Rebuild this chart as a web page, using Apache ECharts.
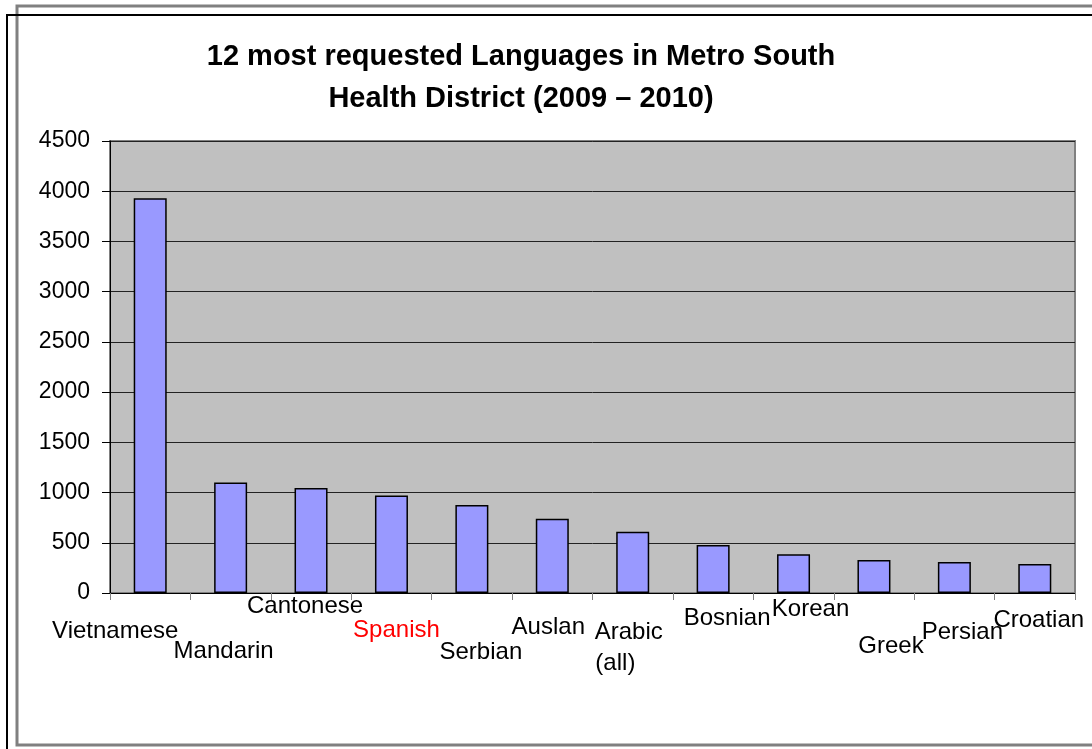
<!DOCTYPE html>
<html>
<head>
<meta charset="utf-8">
<script src="https://cdn.jsdelivr.net/npm/echarts@6/dist/echarts.min.js"></script>
<style>
html,body{margin:0;padding:0;background:#fff;}
#chart{width:1092px;height:749px;}
</style>
</head>
<body>
<div id="chart"></div>
<script>
const titleLines = ['12 most requested Languages in Metro South', 'Health District (2009 \u2013 2010)'];
const categories = ['Vietnamese', 'Mandarin', 'Cantonese', 'Spanish', 'Serbian', 'Auslan', 'Arabic\n(all)    ', 'Bosnian', 'Korean', 'Greek', 'Persian', 'Croatian'];
const values = [3930, 1100, 1045, 970, 875, 740, 610, 478, 385, 328, 308, 289];
const yTicks = [0, 500, 1000, 1500, 2000, 2500, 3000, 3500, 4000, 4500];
// per-label padding [top, right, bottom, left] to mimic staggered label placement
const labelPads = [[26,70,0,0],[46,14,0,0],[1,12,0,0],[25,0,0,10],[47,0,0,18],[22,8,0,0],[24,8,0,0],[13,0,0,28],[4,0,0,34],[41,0,0,34],[27,0,0,16],[15,0,0,8]];
const labelColors = ['#000','#000','#000','#ff0000','#000','#000','#000','#000','#000','#000','#000','#000'];

const FONT = '"Liberation Sans", Arial, sans-serif';
const TITLE_SIZE = 29;
const TITLE_CENTER_X = 521;

const chart = echarts.init(document.getElementById('chart'), null, {renderer: 'canvas'});

const xData = categories.map((c, i) => ({
  value: c,
  textStyle: {
    padding: labelPads[i],
    color: labelColors[i],
    lineHeight: c.indexOf('\n') >= 0 ? 31 : 24
  }
}));

chart.setOption({
  backgroundColor: '#ffffff',
  animation: false,
  title: {
    text: titleLines.join('\n'),
    left: TITLE_CENTER_X,
    top: 36,
    padding: 0,
    textAlign: 'center',
    textStyle: {fontFamily: FONT, fontSize: TITLE_SIZE, fontWeight: 'bold', color: '#000', lineHeight: 42}
  },
  graphic: [
    {type: 'rect', shape: {x: 17, y: 6, width: 1090, height: 739}, style: {fill: 'none', stroke: '#808080', lineWidth: 3}, silent: true, z: 100},
    {type: 'polyline', shape: {points: [[1092, 15], [7, 15], [7, 749]]}, style: {fill: 'none', stroke: '#000', lineWidth: 2}, silent: true, z: 101}
  ],
  grid: {
    left: 110, right: 17, top: 141, bottom: 156,
    show: true, backgroundColor: '#c0c0c0', borderColor: '#808080', borderWidth: 2,
    containLabel: false, outerBoundsMode: 'none'
  },
  xAxis: {
    type: 'category',
    data: xData,
    boundaryGap: true,
    axisLine: {show: true, lineStyle: {color: '#000', width: 1}},
    axisTick: {show: true, length: 7, lineStyle: {color: '#808080', width: 1}},
    axisLabel: {
      interval: 0, hideOverlap: false, margin: 0,
      fontFamily: FONT, fontSize: 24, color: '#000', lineHeight: 24,
      verticalAlign: 'top'
    },
    splitLine: {show: false}
  },
  yAxis: {
    type: 'value',
    min: 0, max: 4500, interval: 500,
    axisLine: {show: true, lineStyle: {color: '#000', width: 1}},
    axisTick: {show: true, length: 8, lineStyle: {color: '#000', width: 1}},
    axisLabel: {
      margin: 20, fontFamily: FONT, fontSize: 23, color: '#000',
      formatter: v => (yTicks.indexOf(v) >= 0 ? String(v) : '')
    },
    splitLine: {show: true, lineStyle: {color: '#222', width: 1}}
  },
  series: [{
    type: 'bar',
    data: values,
    barWidth: 33,
    itemStyle: {color: '#9999ff', borderColor: '#000', borderWidth: 1.5},
    z: 3
  }]
});
</script>
</body>
</html>
